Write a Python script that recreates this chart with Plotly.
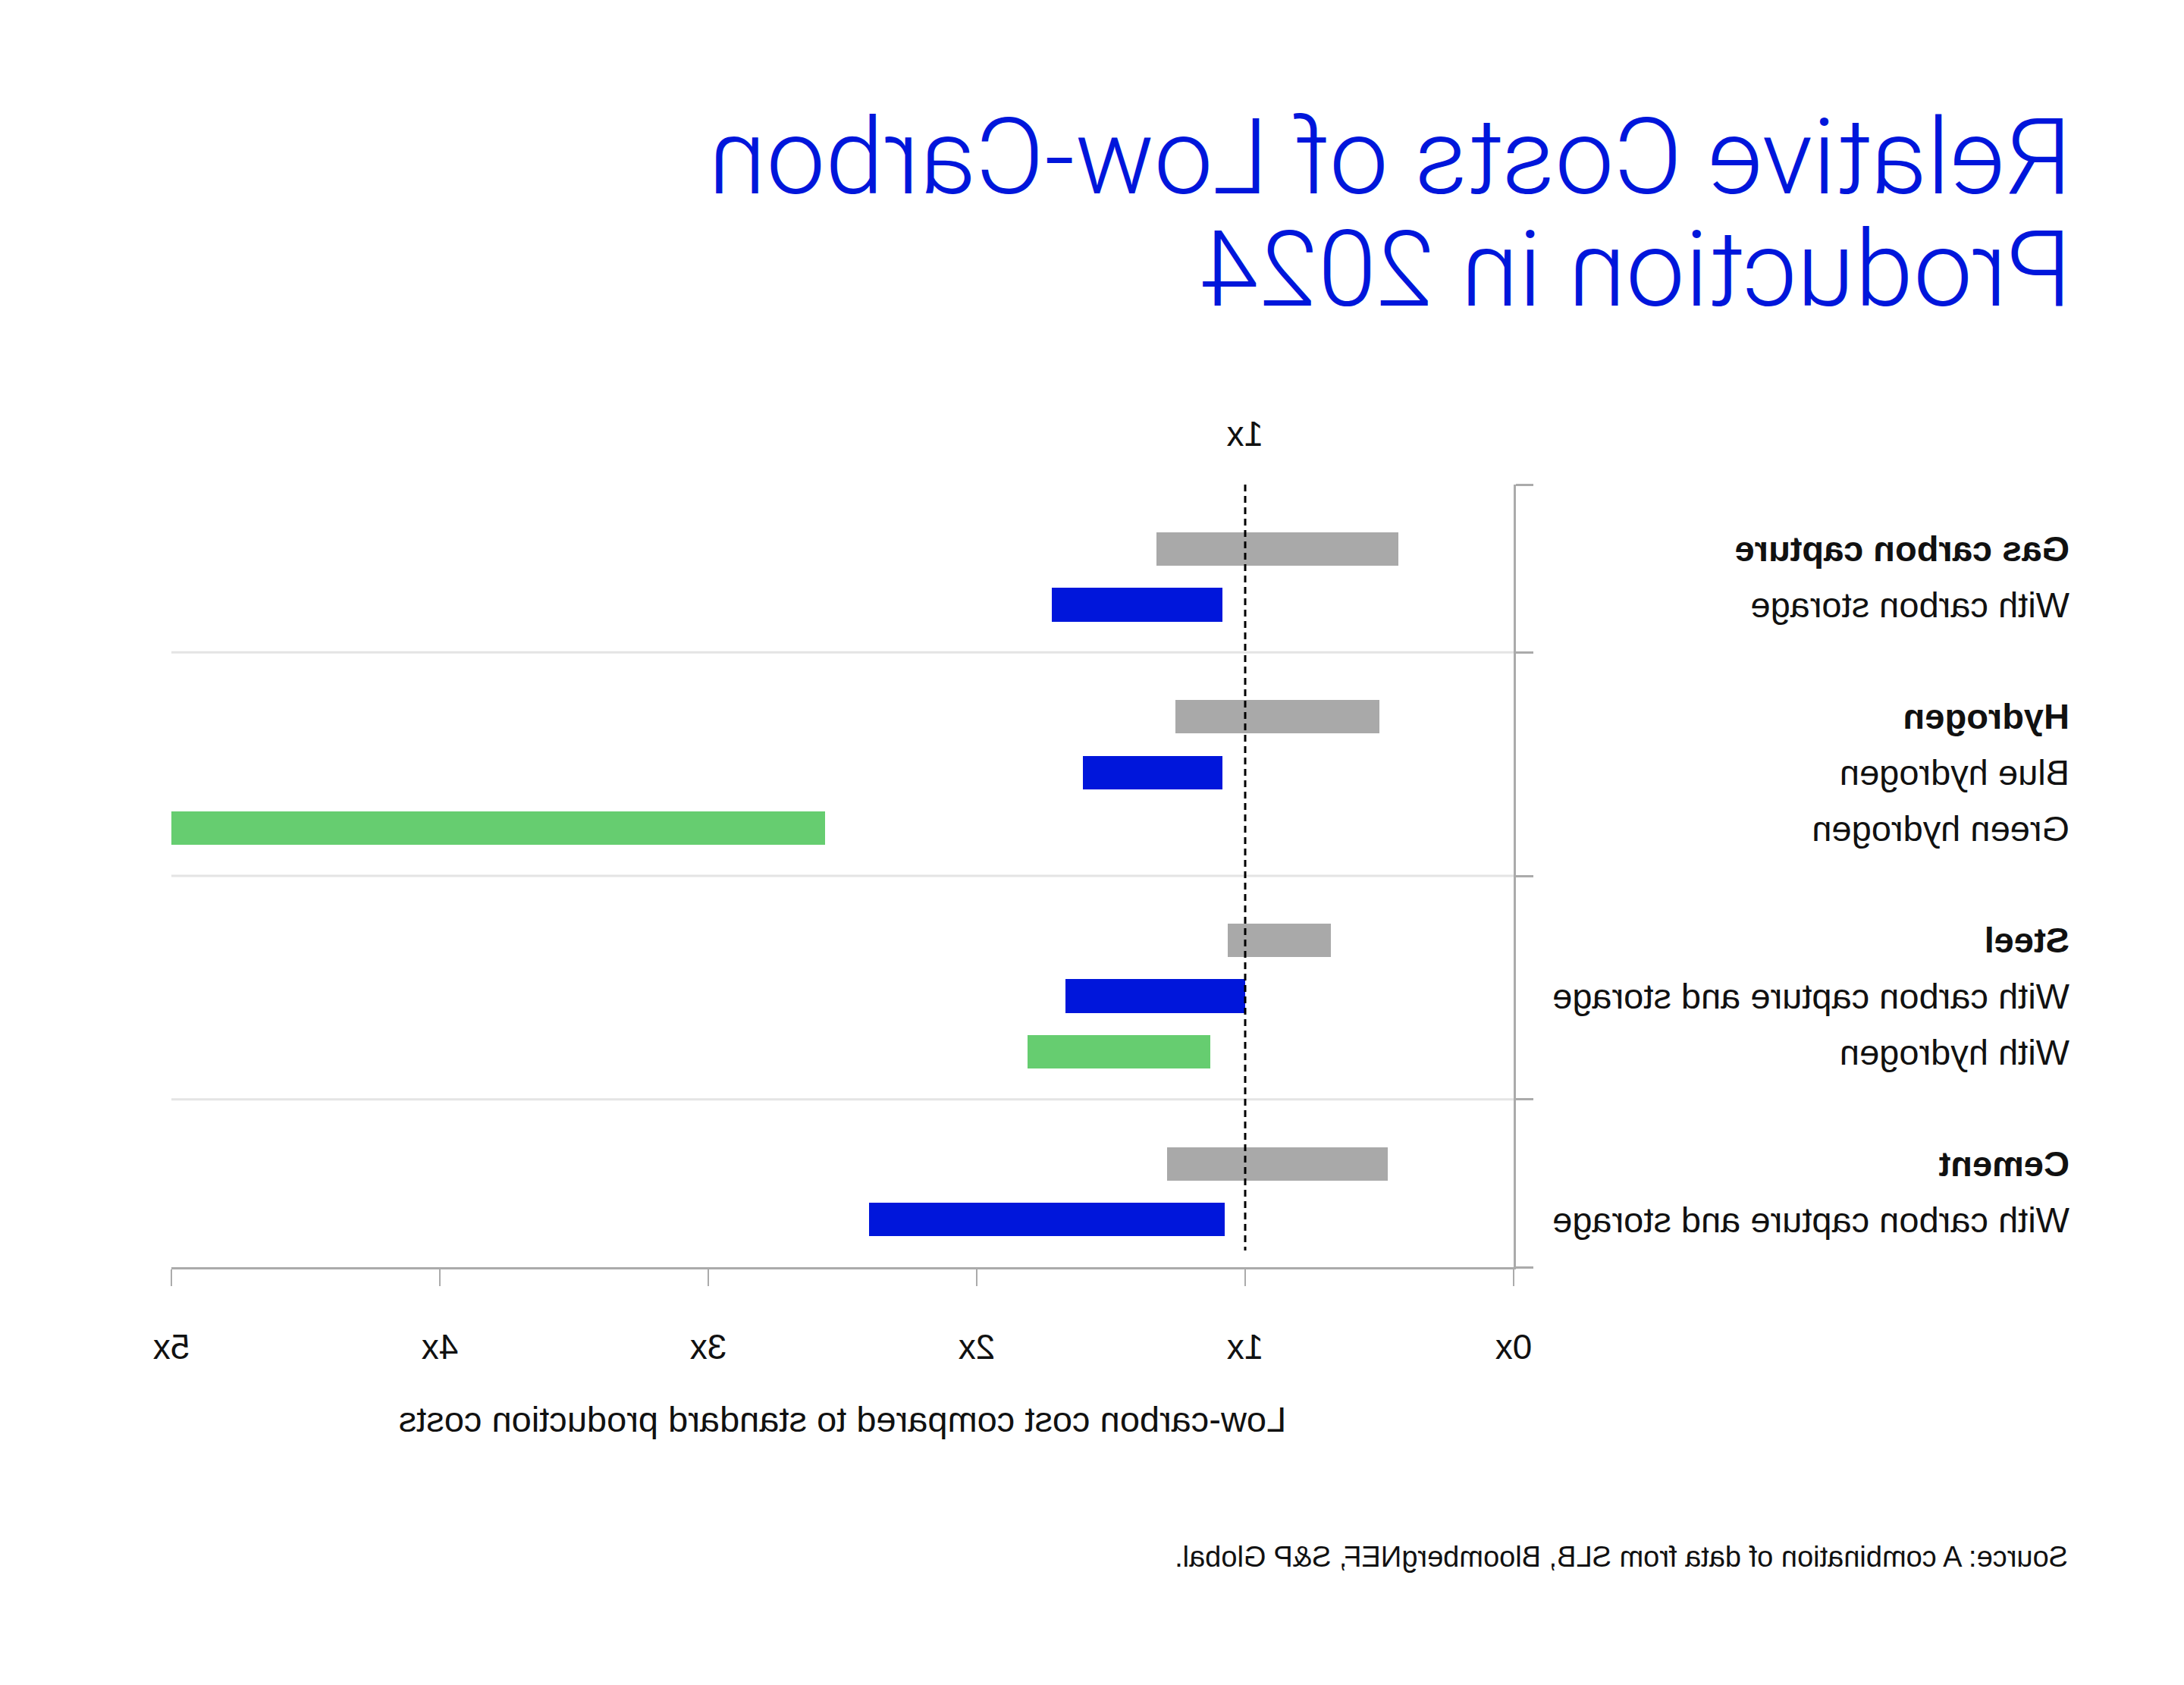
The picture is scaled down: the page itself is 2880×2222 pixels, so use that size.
import plotly.graph_objects as go

# ---------------- data ----------------
group_names = ["Gas carbon capture", "Hydrogen", "Steel", "Cement"]
group_items = [
    ["With carbon storage"],
    ["Blue hydrogen", "Green hydrogen"],
    ["With carbon capture and storage", "With hydrogen"],
    ["With carbon capture and storage"],
]
# standard (grey) range per group
std_low = [0.43, 0.50, 0.68, 0.47]
std_high = [1.33, 1.26, 1.065, 1.29]
# low-carbon ranges per item
item_low = [[1.085], [1.085, 2.565], [1.0, 1.13], [1.075]]
item_high = [[1.72], [1.605, 5.0], [1.67, 1.81], [2.40]]
item_kind = [["blue"], ["blue", "green"], ["blue", "green"], ["blue"]]

x_tickvals = [0, 1, 2, 3, 4, 5]
x_ticktext = ["0x", "1x", "2x", "3x", "4x", "5x"]
reference_value = 1
reference_label = "1x"

title_lines = ["Relative Costs of Low-Carbon", "Production in 2024"]
x_title = "Low-carbon cost compared to standard production costs"
source_text = "Source: A combination of data from SLB, BloombergNEF, S&P Global."

# ---------------- style ----------------
W, H = 2880, 2222
ML, MR, MT, MB = 884, 226, 639, 551
PW, PH = W - ML - MR, H - MT - MB
BLUE = "#0016DB"
GREY = "#A9A9A9"
GREEN = "#66CD70"
TEXT = "#111111"
AXIS = "#ABABAB"
SEP = "#E4E4E4"
FONT = "Liberation Sans, Arial, Helvetica, sans-serif"
colors = {"grey": GREY, "blue": BLUE, "green": GREEN}


def xp(px):
    return (px - ML) / PW


def yp(py):
    return 1 - (py - MT) / PH


# row layout: header row + items, blank row between groups
rows_y, rows_label, rows_bold = [], [], []
bars = {"grey": ([], [], []), "blue": ([], [], []), "green": ([], [], [])}
bounds = [-1.15]
r = 0
for g, name in enumerate(group_names):
    rows_y.append(r); rows_label.append(name); rows_bold.append(True)
    bars["grey"][0].append(r); bars["grey"][1].append(std_low[g]); bars["grey"][2].append(std_high[g])
    r += 1
    for k, item in enumerate(group_items[g]):
        rows_y.append(r); rows_label.append(item); rows_bold.append(False)
        kind = item_kind[g][k]
        bars[kind][0].append(r); bars[kind][1].append(item_low[g][k]); bars[kind][2].append(item_high[g][k])
        r += 1
    bounds.append(r - 0.15)
    r += 1
y_top, y_bottom = bounds[0], bounds[-1]

fig = go.Figure()
for kind in ["grey", "blue", "green"]:
    ys, lo, hi = bars[kind]
    fig.add_trace(go.Bar(
        y=ys, x=[h - l for l, h in zip(lo, hi)], base=lo, orientation="h",
        width=0.6, marker=dict(color=colors[kind], line=dict(width=0)),
        hoverinfo="skip", showlegend=False,
    ))

shapes = []
for b in bounds[1:-1]:
    shapes.append(dict(type="line", xref="x domain", x0=0, x1=1, yref="y", y0=b, y1=b,
                       line=dict(color=SEP, width=3), layer="below"))
shapes.append(dict(type="line", xref="x", x0=reference_value, x1=reference_value,
                   yref="y", y0=y_top, y1=y_bottom - 0.3,
                   line=dict(color="#000000", width=3, dash="9px,6px"), layer="above"))

annotations = []
for yv, lab, bold in zip(rows_y, rows_label, rows_bold):
    annotations.append(dict(
        text=f"<b>{lab}</b>" if bold else lab, xref="paper", x=xp(149), xanchor="left",
        yref="y", y=yv, yanchor="middle", showarrow=False,
        font=dict(family=FONT, size=47, color=TEXT)))
title_y = [208, 356]
for line, ty in zip(title_lines, title_y):
    annotations.append(dict(
        text=line, xref="paper", x=xp(146), xanchor="left", yref="paper", y=yp(ty),
        yanchor="middle", showarrow=False,
        font=dict(family="Roboto, Liberation Sans, sans-serif", size=139, color=BLUE, weight=300)))
annotations.append(dict(text=reference_label, xref="x", x=reference_value, xanchor="center",
                        yref="paper", y=yp(572), yanchor="middle", showarrow=False,
                        font=dict(family=FONT, size=46, color=TEXT)))
annotations.append(dict(text=source_text, xref="paper", x=xp(151), xanchor="left",
                        yref="paper", y=yp(2053), yanchor="middle", showarrow=False,
                        font=dict(family=FONT, size=38, color=TEXT)))

fig.update_layout(
    width=W, height=H, margin=dict(l=ML, r=MR, t=MT, b=MB, pad=0),
    paper_bgcolor="white", plot_bgcolor="white",
    shapes=shapes, annotations=annotations, bargap=0,
    xaxis=dict(range=[0, 5], tickvals=x_tickvals, ticktext=x_ticktext,
               showgrid=False, zeroline=False, showline=True, linecolor=AXIS, linewidth=3,
               ticks="outside", ticklen=22, tickwidth=2, tickcolor=AXIS,
               ticklabelstandoff=41,
               tickfont=dict(family=FONT, size=46, color=TEXT),
               title=dict(text=x_title, standoff=54, font=dict(family=FONT, size=47, color=TEXT))),
    yaxis=dict(range=[y_bottom, y_top], tickvals=bounds, showticklabels=False,
               showgrid=False, zeroline=False, showline=True, linecolor=AXIS, linewidth=3,
               ticks="outside", ticklen=23, tickwidth=3, tickcolor=AXIS),
)

post = ("document.body.style.margin='0';"
        "var d=document.getElementById('{plot_id}');"
        "d.style.transform='scaleX(-1)';d.style.transformOrigin='50% 50%';")
fig.write_html("out.html", config={"displayModeBar": False}, post_script=post)
